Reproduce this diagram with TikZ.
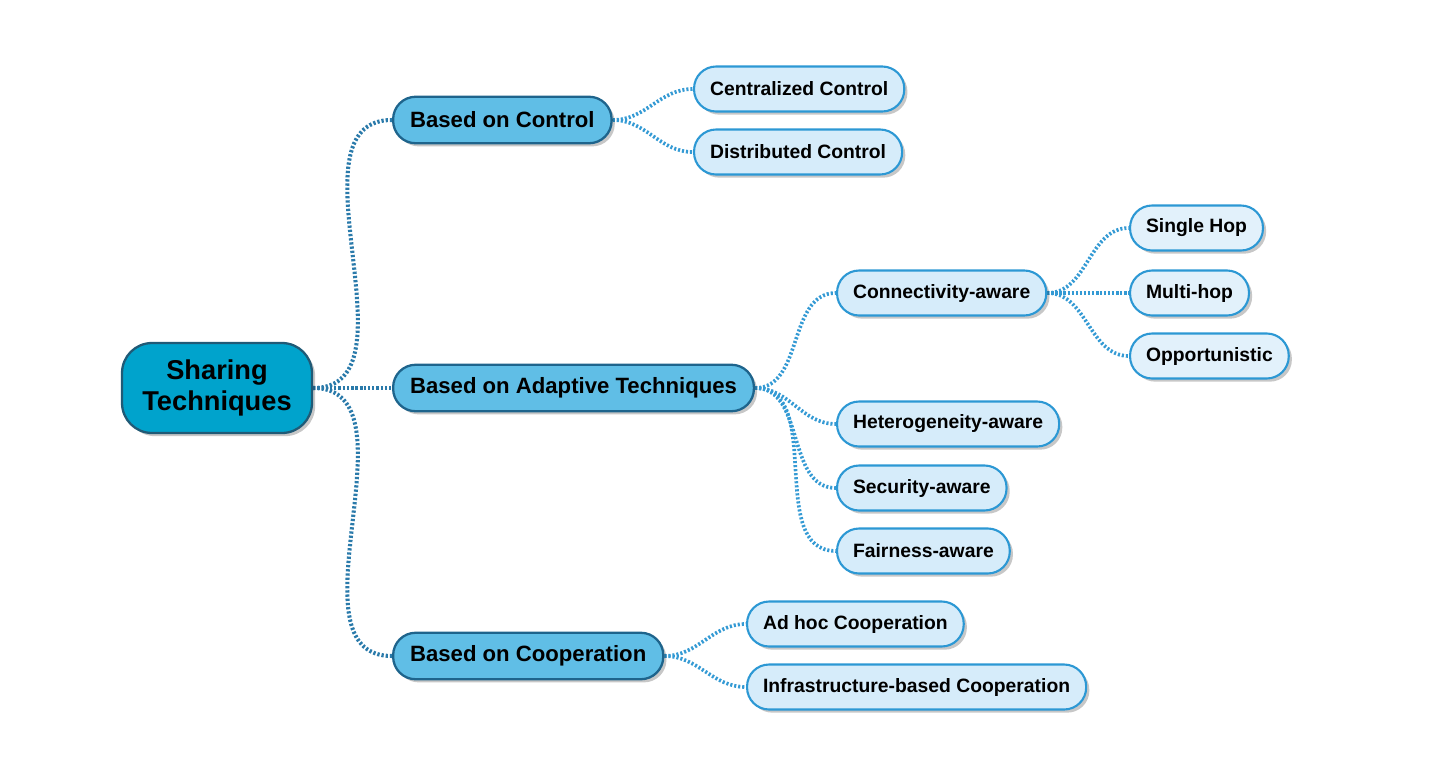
\documentclass[tikz,border=0pt]{standalone}
\usepackage{fontspec}
\setmainfont{Liberation Sans}
\usetikzlibrary{shadows,backgrounds}
\definecolor{rootfill}{RGB}{0,163,204}
\definecolor{rootdraw}{RGB}{32,90,118}
\definecolor{lonefill}{RGB}{96,190,230}
\definecolor{lonedraw}{RGB}{30,100,140}
\definecolor{leaffill}{RGB}{214,236,250}
\definecolor{leafdraw}{RGB}{44,152,212}
\definecolor{leafthree}{RGB}{226,241,251}
\definecolor{connone}{RGB}{42,122,170}
\definecolor{conntwo}{RGB}{52,154,212}
\tikzset{
  shade/.style={drop shadow={shadow xshift=1.8pt,shadow yshift=-1.8pt,opacity=0.22,fill=black}},
  rootbox/.style={shade,draw=rootdraw,fill=rootfill,line width=1.3pt,rounded corners=0.6cm,
    minimum width=3.8cm,minimum height=1.8cm,align=center,
    font=\fontsize{15.5}{17.6}\selectfont\bfseries},
  lonebox/.style={shade,draw=lonedraw,fill=lonefill,line width=1.3pt,rounded corners=0.45cm,
    minimum height=0.93cm,inner xsep=0.34cm,anchor=west,
    font=\fontsize{12.6}{14}\selectfont\bfseries},
  leafbox/.style={shade,draw=leafdraw,fill=leaffill,line width=1.2pt,rounded corners=0.44cm,
    minimum height=0.9cm,inner xsep=0.32cm,anchor=west,
    font=\fontsize{11}{13}\selectfont\bfseries},
  leafthreebox/.style={leafbox,fill=leafthree},
  connA/.style={draw=connone,line width=2.3pt,dash pattern=on 1.3pt off 1.1pt},
  connB/.style={draw=conntwo,line width=2.1pt,dash pattern=on 1.2pt off 1.1pt},
}
\begin{document}
\begin{tikzpicture}[x=0.02cm,y=-0.02cm]
\useasboundingbox (0,0) rectangle (1455,761);
\node[rootbox] (root) at (217,388) {\raisebox{-2pt}{Sharing}\\\raisebox{-2pt}{Techniques}};
\node[lonebox] (ctrl) at (392,120) {Based on Control};
\node[lonebox] (adapt) at (392,388) {Based on Adaptive Techniques};
\node[lonebox] (coop) at (392,656) {Based on Cooperation};
\node[leafbox] (cent) at (693,89) {Centralized Control};
\node[leafbox] (dist) at (693,152) {Distributed Control};
\node[leafbox] (conn) at (836,293) {Connectivity-aware};
\node[leafbox] (het) at (836,424) {Heterogeneity-aware};
\node[leafbox] (sec) at (836,488) {Security-aware};
\node[leafbox] (fair) at (836,551) {Fairness-aware};
\node[leafthreebox] (single) at (1129,228) {Single Hop};
\node[leafthreebox] (multi) at (1129,293) {Multi-hop};
\node[leafthreebox] (opp) at (1129,356) {Opportunistic};
\node[leafbox] (adhoc) at (746,624) {Ad hoc Cooperation};
\node[leafbox] (infra) at (746,687) {Infrastructure-based Cooperation};
\begin{scope}[on background layer]
\foreach \t in {ctrl,adapt,coop}
  \draw[connA] (root.east) to[out=0,in=180] (\t.west);
\foreach \t in {cent,dist}
  \draw[connB] (ctrl.east) to[out=0,in=180] (\t.west);
\foreach \t in {conn,het,sec,fair}
  \draw[connB] (adapt.east) to[out=0,in=180] (\t.west);
\foreach \t in {single,multi,opp}
  \draw[connB] (conn.east) to[out=0,in=180] (\t.west);
\foreach \t in {adhoc,infra}
  \draw[connB] (coop.east) to[out=0,in=180] (\t.west);
\end{scope}
\end{tikzpicture}
\end{document}
